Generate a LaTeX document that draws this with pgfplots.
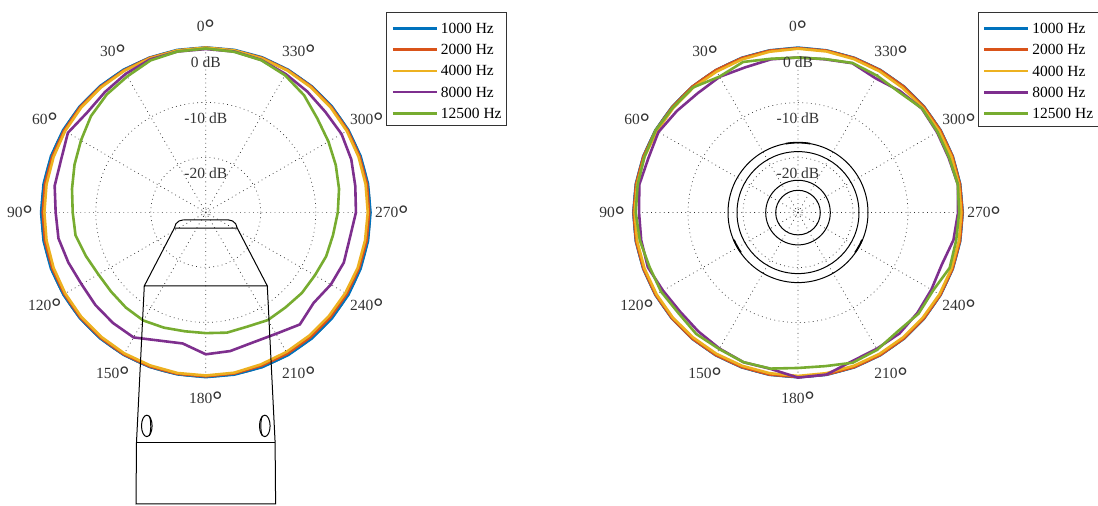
\documentclass[border=0pt]{standalone}
\usepackage{fontspec}
\setmainfont{Liberation Serif}
\usepackage{pgfplots}
\usepackage{pgfplotstable}
\usepgfplotslibrary{polar}
\pgfplotsset{compat=1.18}

\definecolor{c1}{HTML}{0072BD}
\definecolor{c2}{HTML}{D95319}
\definecolor{c3}{HTML}{EDB120}
\definecolor{c4}{HTML}{7E2F8E}
\definecolor{c5}{HTML}{77AC30}
\definecolor{txt}{gray}{0.2}
\newcommand{\lab}{\fontsize{15.5}{18}\selectfont}
\newcommand{\dg}{\smash{\fontsize{25}{25}\selectfont\bfseries\raisebox{-5.4pt}{\textdegree}}}

% level in dB per angle
\pgfplotstableread{
a f1 f2 f3 f4 f5
0 0 -0.05 -0.05 -0.3 -0.2
10 0 -0.1 -0.1 -0.3 -0.3
20 -0.05 -0.1 -0.2 -0.4 -0.6
30 -0.05 -0.2 -0.3 -0.9 -1.45
40 -0.05 -0.2 -0.35 -1.45 -2
50 -0.05 -0.2 -0.4 -1.8 -2.75
60 -0.05 -0.25 -0.45 -1.05 -3.8
70 -0.05 -0.3 -0.55 -2 -4.6
80 -0.05 -0.3 -0.6 -2.1 -5.3
90 -0.05 -0.35 -0.65 -2.7 -5.8
100 -0.05 -0.3 -0.6 -2.8 -5.95
110 -0.05 -0.3 -0.55 -3.4 -6.8
120 -0.1 -0.3 -0.5 -3.9 -7.45
130 -0.1 -0.25 -0.45 -3.8 -7.55
140 -0.1 -0.25 -0.45 -3.75 -7.4
150 -0.1 -0.2 -0.4 -3.75 -7.3
160 -0.1 -0.2 -0.4 -5.2 -7.7
170 -0.1 -0.2 -0.35 -5.8 -8.05
180 -0.05 -0.2 -0.35 -4.2 -8.05
190 -0.05 -0.25 -0.4 -4.4 -7.8
200 -0.05 -0.35 -0.6 -4.85 -7.9
210 -0.05 -0.35 -0.7 -4.5 -7.4
220 -0.05 -0.4 -0.75 -3.4 -7.45
230 -0.05 -0.4 -0.75 -4.4 -7.2
240 -0.05 -0.4 -0.7 -3.75 -7.1
250 -0.05 -0.35 -0.6 -3.3 -6.7
260 -0.05 -0.3 -0.6 -3.4 -6.5
270 -0.05 -0.3 -0.55 -2.7 -6
280 -0.05 -0.25 -0.5 -2.4 -5.4
290 -0.05 -0.25 -0.45 -1.85 -4.85
300 -0.05 -0.2 -0.4 -1.5 -4.25
310 -0.05 -0.2 -0.35 -1.6 -3.5
320 -0.05 -0.15 -0.3 -1.3 -2.2
330 -0.05 -0.15 -0.25 -0.95 -1.2
340 0 -0.1 -0.2 -0.5 -0.55
350 0 -0.1 -0.1 -0.3 -0.35
360 0 -0.05 -0.05 -0.3 -0.2
}\leftdata

\pgfplotstableread{
a f1 f2 f3 f4 f5
0 0 -0.1 -0.2 -1.8 -1.8
10 -0.05 -0.1 -0.3 -1.7 -1.6
20 -0.05 -0.1 -0.35 -1.9 -0.85
30 -0.1 -0.1 -0.4 -1.5 -1.45
40 -0.1 -0.1 -0.35 -1.65 -0.3
50 -0.1 -0.15 -0.4 -1.25 -0.3
60 -0.05 -0.1 -0.4 -0.7 -0.1
70 -0.05 -0.1 -0.3 -1.05 -0.3
80 -0.05 -0.1 -0.3 -0.7 -0.4
90 -0.05 -0.1 -0.3 -1.1 -0.5
100 -0.05 -0.1 -0.3 -1.05 -0.8
110 -0.05 -0.1 -0.3 -0.95 -1.25
120 -0.05 -0.1 -0.3 -1.65 -1.25
130 -0.05 -0.1 -0.3 -2 -1.6
140 -0.05 -0.1 -0.35 -1.8 -1.2
150 -0.05 -0.1 -0.35 -1.45 -1.35
160 -0.05 -0.1 -0.35 -1.05 -1.05
170 -0.05 -0.1 -0.35 -1.15 -1.2
180 -0.05 -0.1 -0.3 0 -1.75
190 -0.05 -0.1 -0.35 -0.1 -1.65
200 -0.05 -0.1 -0.35 -1.25 -0.95
210 -0.05 -0.1 -0.35 -1.4 -1.2
220 -0.05 -0.1 -0.35 -1.3 -1.8
230 -0.05 -0.1 -0.35 -1.65 -1.4
240 -0.05 -0.1 -0.3 -2 -1.65
250 -0.05 -0.1 -0.3 -2.2 -0.65
260 -0.05 -0.1 -0.3 -1.3 -0.8
270 -0.05 -0.1 -0.3 -0.9 -0.7
280 -0.05 -0.1 -0.3 -0.5 -0.5
290 -0.05 -0.1 -0.3 -0.85 -0.75
300 -0.05 -0.1 -0.35 -0.8 -0.7
310 -0.05 -0.1 -0.35 -0.6 -0.55
320 -0.05 -0.1 -0.4 -1.15 -1.4
330 -0.05 -0.1 -0.35 -1.8 -1.25
340 -0.05 -0.1 -0.3 -1.1 -1.05
350 -0.05 -0.1 -0.25 -1.7 -1.65
360 0 -0.1 -0.2 -1.8 -1.8
}\rightdata

\pgfplotsset{
	micro/.style={
		width=330pt, height=330pt, scale only axis,
		anchor=center, clip=false,
		xmin=0, xmax=360, ymin=0, ymax=30,
		xtick={0,30,...,330}, ytick={0.6,10,20},
		xticklabels={}, yticklabels={},
		major tick length=0pt,
		grid=major,
		grid style={black!80, line width=0.7pt, dash pattern=on 0.8pt off 3.5pt},
		axis line style={black!70, line width=0.4pt},
		y axis line style={draw=none},
		legend cell align=left,
		legend image code/.code={
			\path[draw=none] (0pt,0pt) -- (49pt,0pt);
			\draw[##1] (1pt,5pt) -- (45pt,5pt);
		},
		legend style={
			font=\lab, text=black, draw=txt, line width=0.7pt,
			anchor=north west, inner xsep=5pt, inner ysep=3.5pt, outer sep=0pt,
			row sep=0pt,
			nodes={inner sep=0pt, text height=17.4pt, text depth=3.85pt, anchor=base west},
		},
	},
	curve/.style={line width=2.6pt, #1},
}

\newcommand{\polarlabels}{
	\node[font=\lab, text=txt] at (axis cs:90,33.8) {0\dg};
	\node[font=\lab, text=txt] at (axis cs:120,33.8) {30\dg};
	\node[font=\lab, text=txt] at (axis cs:150,33.8) {60\dg};
	\node[font=\lab, text=txt] at (axis cs:180,33.8) {90\dg};
	\node[font=\lab, text=txt] at (axis cs:210,33.8) {120\dg};
	\node[font=\lab, text=txt] at (axis cs:240,33.8) {150\dg};
	\node[font=\lab, text=txt] at (axis cs:270,33.8) {180\dg};
	\node[font=\lab, text=txt] at (axis cs:300,33.8) {210\dg};
	\node[font=\lab, text=txt] at (axis cs:330,33.8) {240\dg};
	\node[font=\lab, text=txt] at (axis cs:0,33.8) {270\dg};
	\node[font=\lab, text=txt] at (axis cs:30,33.8) {300\dg};
	\node[font=\lab, text=txt] at (axis cs:60,33.8) {330\dg};
	\node[font=\lab, text=txt] at (axis cs:90,27.4) {0 dB};
	\node[font=\lab, text=txt] at (axis cs:90,17.2) {-10 dB};
	\node[font=\lab, text=txt] at (axis cs:90,7.2) {-20 dB};
}

\newcommand{\curves}[1]{
	\addplot[curve=c1] table[x expr=\thisrow{a}+90, y expr=\thisrow{f1}+30] {#1};
	\addplot[curve=c2] table[x expr=\thisrow{a}+90, y expr=\thisrow{f2}+30] {#1};
	\addplot[curve=c3] table[x expr=\thisrow{a}+90, y expr=\thisrow{f3}+30] {#1};
	\addplot[curve=c4] table[x expr=\thisrow{a}+90, y expr=\thisrow{f4}+30] {#1};
	\addplot[curve=c5] table[x expr=\thisrow{a}+90, y expr=\thisrow{f5}+30] {#1};
	\legend{1000 Hz, 2000 Hz, 4000 Hz, 8000 Hz, 12500 Hz}
}

\begin{document}
\begin{tikzpicture}
	\path[use as bounding box] (0pt,0pt) rectangle (1098pt,506pt);

	\begin{polaraxis}[micro, at={(205.8pt,293.6pt)},
			legend style={at={(1.048,1.106)}}]
		\curves{\leftdata}
		\polarlabels
	\end{polaraxis}

	\begin{polaraxis}[micro, at={(798pt,293.4pt)},
			legend style={at={(1.046,1.106)}}]
		\curves{\rightdata}
		\polarlabels
	\end{polaraxis}

	% capsule outline, left plot
	\begin{scope}[shift={(205.8pt,293.6pt)}, line width=1pt, x=1pt, y=1pt]
		\draw (-22.5,-7.5) -- (22.5,-7.5) arc[start angle=90, end angle=35, radius=9] -- (31.5,-15.8) -- (-31.5,-15.8);
		\draw (-22.5,-7.5) arc[start angle=90, end angle=145, radius=9] -- (-31.5,-15.8);
		\draw (-31.5,-15.8) -- (-61.5,-73.5) -- (61.5,-73.5) -- (31.5,-15.8);
		\draw (-61.5,-73.5) -- (-69.3,-229.7) -- (-69.8,-291.5) -- (69.8,-291.5) -- (69.3,-229.7) -- (61.5,-73.5);
		\draw (-69.3,-229.7) -- (69.3,-229.7);
		\draw (-59,-213.5) ellipse[x radius=5.3, y radius=10.7];
		\draw (59,-213.5) ellipse[x radius=5.3, y radius=10.7];
		\draw (-56.5,-203.5) arc[start angle=60, end angle=-60, x radius=3, y radius=11.5];
		\draw (56.5,-203.5) arc[start angle=120, end angle=240, x radius=3, y radius=11.5];
	\end{scope}

	% capsule rings, right plot
	\begin{scope}[shift={(798pt,293.4pt)}, line width=1pt, x=1pt, y=1pt]
		\draw (0,0) circle[radius=70];
		\draw (0,0) circle[radius=61];
		\draw (0,0) circle[radius=32.3];
		\draw (0,0) circle[radius=22.3];
		\draw[line width=1.6pt] (80:70) arc[start angle=80, end angle=100, radius=70];
		\draw[line width=1.7pt] (203:69.6) arc[start angle=203, end angle=215, radius=69.6];
		\draw[line width=1.7pt] (325:69.6) arc[start angle=325, end angle=337, radius=69.6];
	\end{scope}
\end{tikzpicture}
\end{document}
